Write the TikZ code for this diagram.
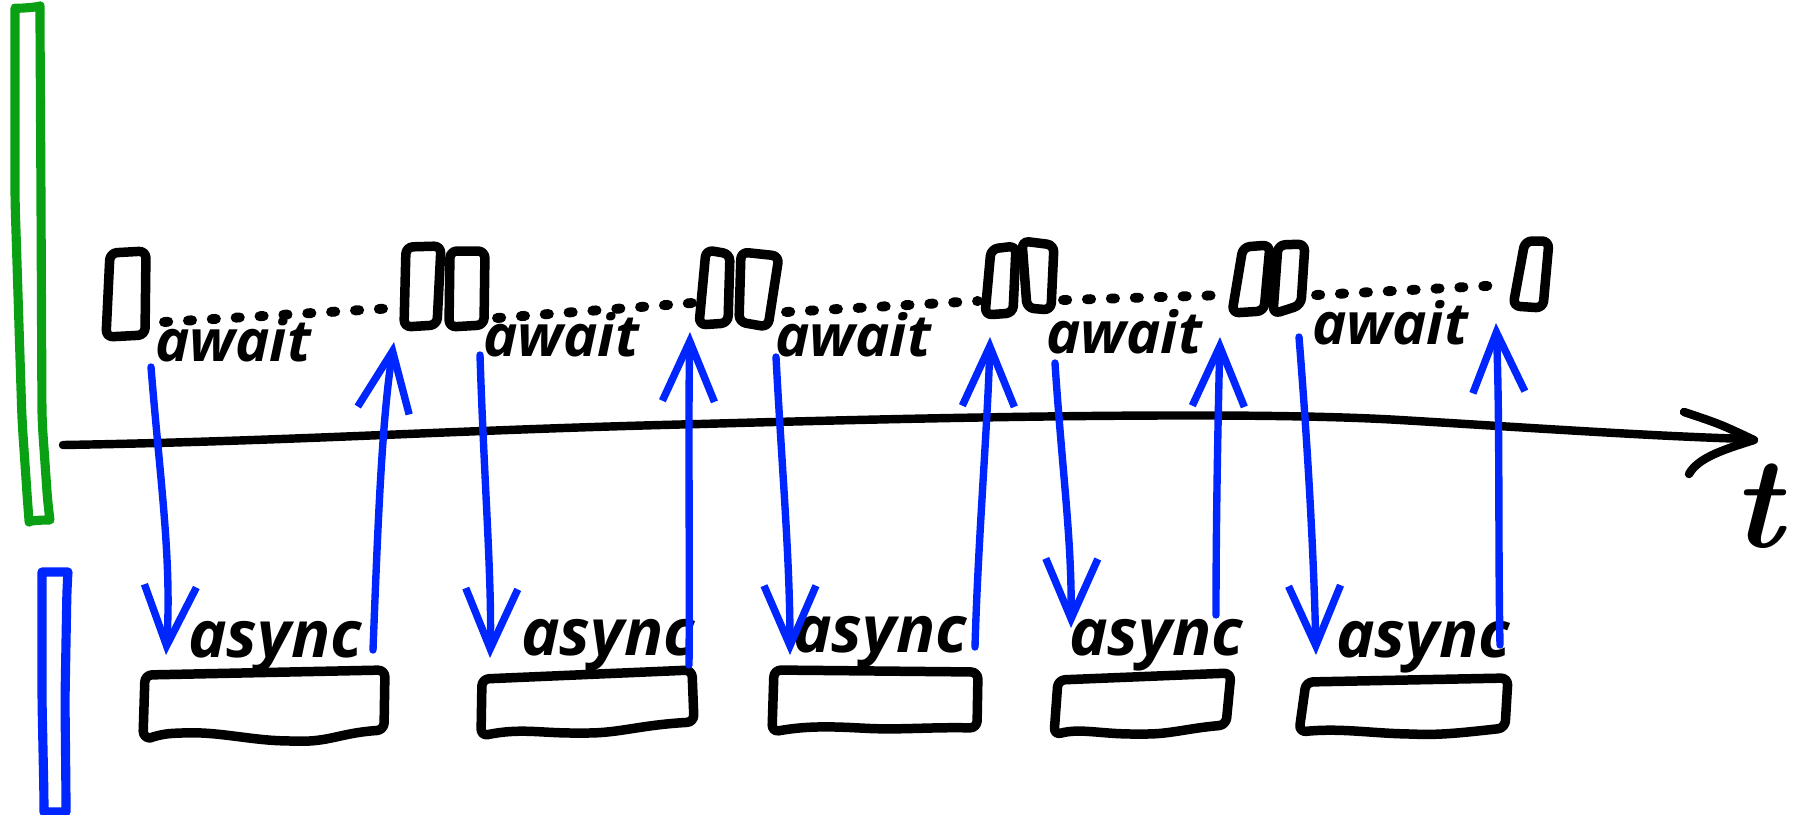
\documentclass[tikz,border=0pt]{standalone}
\usepackage{fontspec}
\newfontfamily\hand{Open Sans}
\usetikzlibrary{arrows.meta}
\definecolor{sketchblue}{RGB}{0,38,255}
\definecolor{sketchgreen}{RGB}{10,160,20}
\tikzset{
  x=0.01cm, y=-0.01cm,
  ink/.style={line width=2.7pt, line cap=round, line join=round},
  tbox/.style={ink, rounded corners=2pt},
  bbox/.style={ink, rounded corners=2pt},
  dotline/.style={line width=2.8pt, line cap=round, dash pattern=on 1.2pt off 5.6pt},
  flow/.style={draw=sketchblue, line width=2.1pt, line cap=round, line join=round,
    -{Straight Barb[length=6mm,width=5.2mm]}},
  waitlbl/.style={font=\hand\bfseries\itshape\fontsize{16.5}{16.5}\selectfont, anchor=base, inner sep=0pt},
  asynclbl/.style={font=\hand\bfseries\itshape\fontsize{18.5}{18.5}\selectfont, anchor=base, inner sep=0pt},
  barline/.style={line width=2.6pt, rounded corners=4pt, line join=round}
}
\begin{document}
\begin{tikzpicture}
\useasboundingbox (0,0) rectangle (1799,814);

% side bars
\draw[barline, draw=sketchgreen] (15,22) .. controls (15,9) and (40,7) .. (40,20)
  -- (41,200) -- (42,420) -- (48,506) .. controls (50,520) and (29,520) .. (28,508)
  -- (22,420) -- (15,200) -- cycle;
\draw[barline, draw=sketchblue] (42,586) .. controls (42,572) and (68,572) .. (67,586)
  -- (65,700) -- (66,798) .. controls (66,812) and (44,812) .. (44,798)
  -- (42,700) -- cycle;

% time axis
\coordinate (axisA) at (63,445);
\coordinate (axisB) at (1748,439);
\draw[ink, line width=2.4pt] (axisA) .. controls (300,441) and (450,430) .. (700,424)
  .. controls (950,417) and (1250,411) .. (1400,420)
  .. controls (1550,429) and (1650,436) .. (axisB);
\draw[ink, line width=2.4pt] (1684,412) .. controls (1720,424) .. (1754,440)
  .. controls (1722,450) and (1698,458) .. (1689,474);
\node[font=\fontsize{37}{37}\selectfont\bfseries\itshape, inner sep=0pt] (tlabel) at (1758,506) {t};

% top blocks
\draw[tbox] (110,253) -- (146,251) -- (145,335) -- (106,337) -- cycle;
\draw[tbox] (406,247) -- (441,246) -- (437,325) -- (404,327) -- cycle;
\draw[tbox] (450,251) -- (485,251) -- (484,325) -- (449,327) -- cycle;
\draw[tbox] (706,250) -- (730,254) -- (728,323) -- (699,325) -- cycle;
\draw[tbox] (741,252) -- (779,256) -- (768,327) -- (739,322) -- cycle;
\draw[tbox] (991,249) -- (1016,246) -- (1013,313) -- (985,315) -- cycle;
\draw[tbox] (1022,241) -- (1054,245) -- (1051,310) -- (1027,308) -- cycle;
\draw[tbox] (1243,247) -- (1270,245) -- (1264,311) -- (1232,313) -- cycle;
\draw[tbox] (1278,245) -- (1305,244) -- (1301,305) -- (1273,314) -- cycle;
\draw[tbox] (1525,241) -- (1549,241) -- (1543,308) -- (1513,306) -- cycle;

% waiting gaps
\coordinate (g1a) at (164,322); \coordinate (g1b) at (395,308);
\coordinate (g2a) at (497,318); \coordinate (g2b) at (692,303);
\coordinate (g3a) at (786,312); \coordinate (g3b) at (978,301);
\coordinate (g4a) at (1063,300); \coordinate (g4b) at (1226,295);
\coordinate (g5a) at (1316,295); \coordinate (g5b) at (1504,285);
\draw[dotline] (g1a) -- (g1b);
\draw[dotline] (g2a) -- (g2b);
\draw[dotline] (g3a) -- (g3b);
\draw[dotline] (g4a) -- (g4b);
\draw[dotline] (g5a) -- (g5b);

% await labels
\node[waitlbl] (w1) at (233,361) {await};
\node[waitlbl] (w2) at (561,356) {await};
\node[waitlbl] (w3) at (853,356) {await};
\node[waitlbl] (w4) at (1124,353) {await};
\node[waitlbl] (w5) at (1390,344) {await};

% async labels
\node[asynclbl] (s1) at (275,657) {async};
\node[asynclbl] (s2) at (608,655) {async};
\node[asynclbl] (s3) at (880,652) {async};
\node[asynclbl] (s4) at (1156,655) {async};
\node[asynclbl] (s5) at (1423,657) {async};

% bottom blocks
\draw[bbox] (145,675) -- (385,670) -- (384,730) .. controls (340,733) and (330,742) .. (290,741)
  .. controls (250,740) and (220,732) .. (180,733) .. controls (160,734) and (150,738) .. (143,738) -- cycle;
\draw[bbox] (482,679) -- (692,670) -- (694,722) .. controls (640,725) and (620,733) .. (580,733)
  .. controls (540,733) and (520,728) .. (481,736) -- cycle;
\draw[bbox] (774,670) -- (978,672) -- (977,728) .. controls (930,727) and (900,730) .. (860,728)
  .. controls (820,726) and (800,727) .. (772,732) -- cycle;
\draw[bbox] (1058,680) -- (1231,673) -- (1226,725) .. controls (1190,728) and (1170,734) .. (1140,734)
  .. controls (1100,734) and (1080,728) .. (1054,735) -- cycle;
\draw[bbox] (1306,682) -- (1508,678) -- (1505,728) .. controls (1460,733) and (1440,735) .. (1410,734)
  .. controls (1370,733) and (1340,728) .. (1299,732) -- cycle;

% hand-offs
\coordinate (d1s) at (151,367);  \coordinate (d1e) at (166,655);
\coordinate (d2s) at (480,355);  \coordinate (d2e) at (490,658);
\coordinate (d3s) at (776,357);  \coordinate (d3e) at (790,655);
\coordinate (d4s) at (1055,363); \coordinate (d4e) at (1071,628);
\coordinate (d5s) at (1299,337); \coordinate (d5e) at (1316,655);
\coordinate (u1s) at (373,650);  \coordinate (u1e) at (394,342);
\coordinate (u2s) at (689,665);  \coordinate (u2e) at (690,332);
\coordinate (u3s) at (975,647);  \coordinate (u3e) at (990,337);
\coordinate (u4s) at (1216,615); \coordinate (u4e) at (1220,337);
\coordinate (u5s) at (1500,645); \coordinate (u5e) at (1496,323);

\draw[flow] (d1s) .. controls (160,480) and (172,560) .. (d1e);
\draw[flow] (d2s) .. controls (484,480) and (492,580) .. (d2e);
\draw[flow] (d3s) .. controls (782,470) and (790,560) .. (d3e);
\draw[flow] (d4s) .. controls (1062,470) and (1072,540) .. (d4e);
\draw[flow] (d5s) .. controls (1308,450) and (1314,560) .. (d5e);
\draw[flow] (u1s) .. controls (378,520) and (382,420) .. (u1e);
\draw[flow] (u2s) .. controls (690,560) and (688,420) .. (u2e);
\draw[flow] (u3s) .. controls (978,540) and (988,420) .. (u3e);
\draw[flow] (u4s) .. controls (1216,520) and (1218,420) .. (u4e);
\draw[flow] (u5s) .. controls (1498,540) and (1500,420) .. (u5e);
\end{tikzpicture}
\end{document}
